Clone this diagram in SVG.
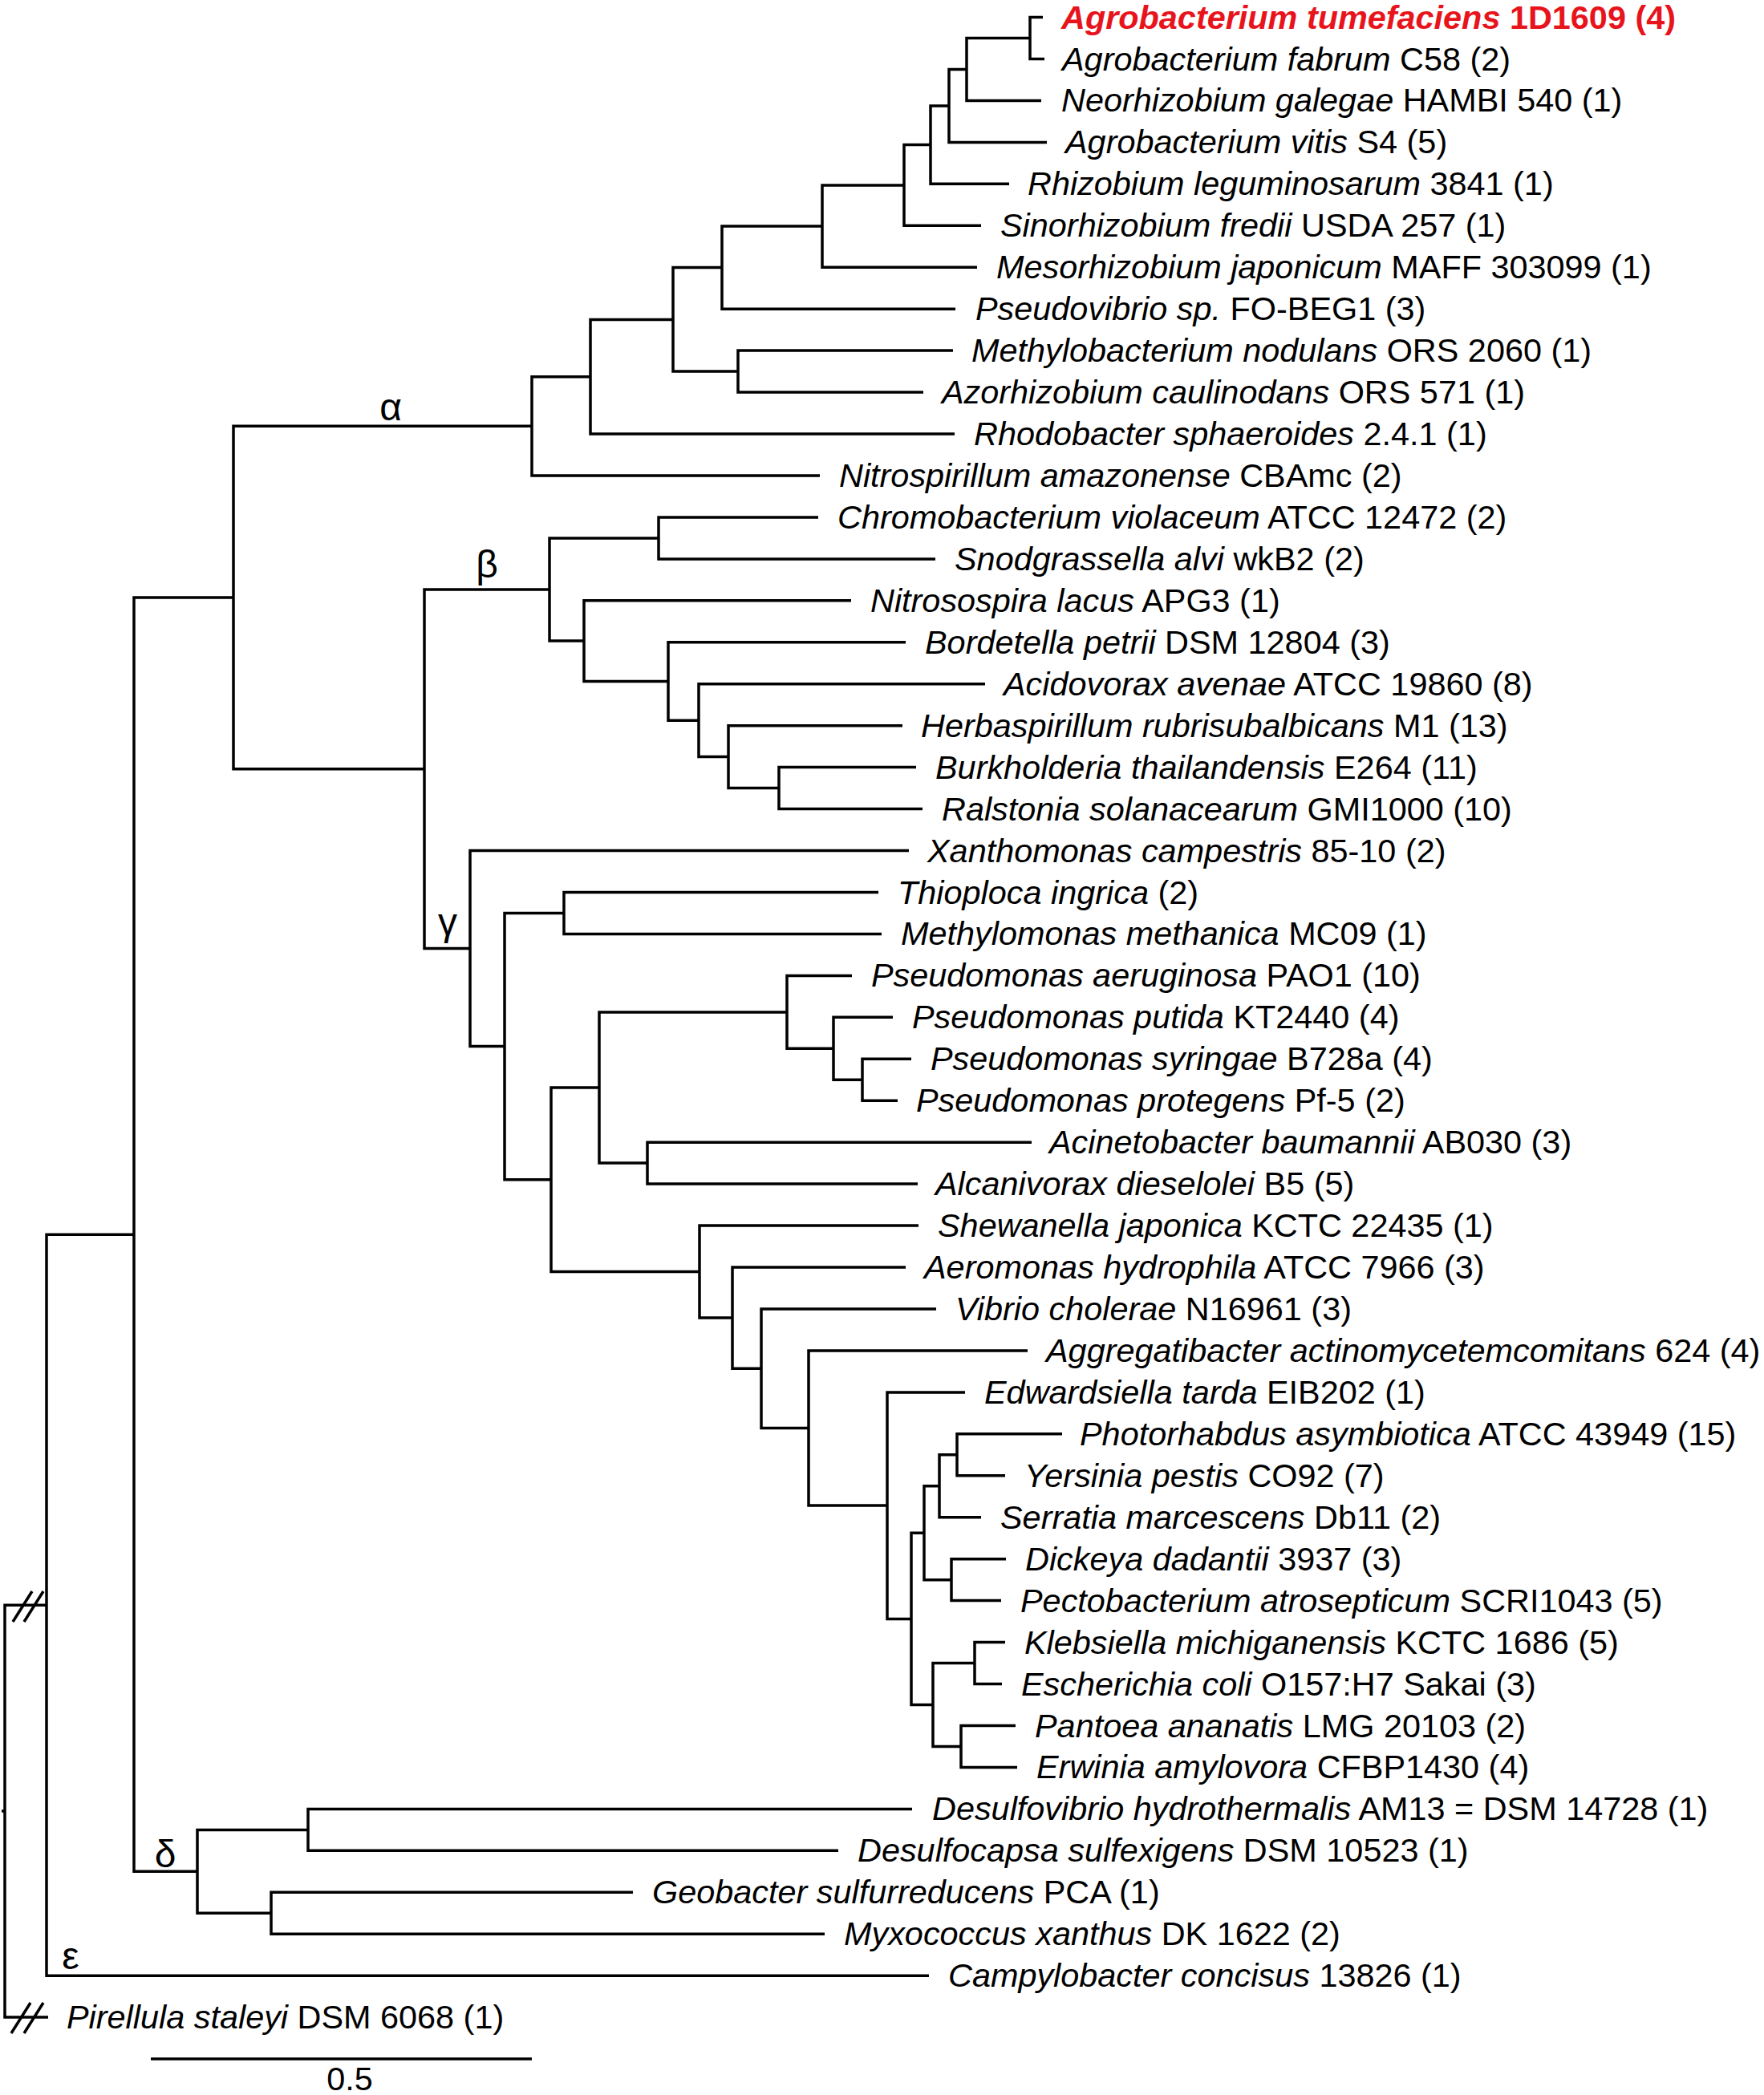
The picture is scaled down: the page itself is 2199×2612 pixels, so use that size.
<svg xmlns="http://www.w3.org/2000/svg" width="2199" height="2612" viewBox="0 0 2199 2612">
<style>
text{font-family:"Liberation Sans",Arial,sans-serif;font-size:41.4px;fill:#000}
.i{font-style:italic}
.red{fill:#e8141c;font-weight:bold}
.gk{font-size:48px;text-anchor:middle}
.br{fill:none;stroke:#000;stroke-width:3.5;stroke-linejoin:miter;stroke-linecap:butt}
</style>
<rect width="2199" height="2612" fill="#fff"/>
<g id="connectors" class="br">
<path d="M1300 21.5H1284V73.5H1302"/>
<path d="M1284 47.5H1205V125.4H1298"/>
<path d="M1205 86.5H1183V177.4H1305"/>
<path d="M1183 132H1160V229.3H1258"/>
<path d="M1160 180.6H1127V281.3H1223"/>
<path d="M1127 231H1025V333.2H1218"/>
<path d="M1025 282.1H900V385.2H1191"/>
<path d="M1188 437.1H920V489.1H1151"/>
<path d="M900 333.6H839V463.1H920"/>
<path d="M839 398.4H736V541H1190"/>
<path d="M736 469.7H663V593H1022"/>
<path d="M1020 644.9H821V696.9H1166"/>
<path d="M1142 956.6H971V1008.6H1150"/>
<path d="M1125 904.7H908V982.6H971"/>
<path d="M1228 852.7H871V943.6H908"/>
<path d="M1129 800.8H833V898.2H871"/>
<path d="M1061 748.8H728V849.5H833"/>
<path d="M821 670.9H685V799.1H728"/>
<path d="M1095 1112.5H703V1164.4H1099"/>
<path d="M1136 1320.3H1075V1372.2H1119"/>
<path d="M1113 1268.3H1039V1346.2H1075"/>
<path d="M1062 1216.4H981V1307.3H1039"/>
<path d="M1286 1424.2H807V1476.1H1144"/>
<path d="M981 1261.9H747V1450.1H807"/>
<path d="M1253 2047.6H1215V2099.5H1249"/>
<path d="M1266 2151.5H1198V2203.4H1268"/>
<path d="M1215 2073.5H1163V2177.5H1198"/>
<path d="M1324 1787.8H1193V1839.8H1253"/>
<path d="M1193 1813.8H1171V1891.7H1223"/>
<path d="M1254 1943.7H1186V1995.6H1248"/>
<path d="M1171 1852.8H1152V1969.7H1186"/>
<path d="M1152 1911.2H1136V2125.5H1163"/>
<path d="M1203 1735.9H1106V2018.4H1136"/>
<path d="M1281 1683.9H1008V1877.1H1106"/>
<path d="M1167 1632H949V1780.5H1008"/>
<path d="M1129 1580H913V1706.3H949"/>
<path d="M1145 1528.1H872V1643.1H913"/>
<path d="M747 1356H687V1585.6H872"/>
<path d="M703 1138.4H629V1470.8H687"/>
<path d="M1133 1060.5H586V1304.6H629"/>
<path d="M685 735H529V1182.6H586"/>
<path d="M663 531.3H291V958.8H529"/>
<path d="M1137 2255.4H384V2307.3H1045"/>
<path d="M789 2359.3H338V2411.2H1028"/>
<path d="M384 2281.4H246V2385.3H338"/>
<path d="M291 745H167V2333.3H246"/>
<path d="M167 1539.2H58V2463.2H1158"/>
<path d="M58 2001.2H6V2515.1H60"/>
<path d="M2 2258H6"/>
<path d="M16 2022L40 1984M30 2022L54 1984"/>
<path d="M14 2535L38 2497M30 2535L54 2497"/>
</g>
<g id="clade-labels">
<text class="gk" x="487" y="524">α</text>
<text class="gk" x="607" y="720">β</text>
<text class="gk" x="558" y="1166">γ</text>
<text class="gk" x="206" y="2328">δ</text>
<text class="gk" x="88" y="2455">ε</text>
</g>
<g id="leaves">
<g id="leaf0"><text class="red" x="1323" y="35.5"><tspan class="i">Agrobacterium tumefaciens</tspan> 1D1609 (4)</text></g>
<g id="leaf1"><text x="1324" y="87.5"><tspan class="i">Agrobacterium fabrum</tspan> C58 (2)</text></g>
<g id="leaf2"><text x="1323" y="139.4"><tspan class="i">Neorhizobium galegae</tspan> HAMBI 540 (1)</text></g>
<g id="leaf3"><text x="1328" y="191.4"><tspan class="i">Agrobacterium vitis</tspan> S4 (5)</text></g>
<g id="leaf4"><text x="1281" y="243.3"><tspan class="i">Rhizobium leguminosarum</tspan> 3841 (1)</text></g>
<g id="leaf5"><text x="1247" y="295.3"><tspan class="i">Sinorhizobium fredii</tspan> USDA 257 (1)</text></g>
<g id="leaf6"><text x="1242" y="347.2"><tspan class="i">Mesorhizobium japonicum</tspan> MAFF 303099 (1)</text></g>
<g id="leaf7"><text x="1216" y="399.2"><tspan class="i">Pseudovibrio sp.</tspan> FO-BEG1 (3)</text></g>
<g id="leaf8"><text x="1211" y="451.1"><tspan class="i">Methylobacterium nodulans</tspan> ORS 2060 (1)</text></g>
<g id="leaf9"><text x="1174" y="503.1"><tspan class="i">Azorhizobium caulinodans</tspan> ORS 571 (1)</text></g>
<g id="leaf10"><text x="1214" y="555"><tspan class="i">Rhodobacter sphaeroides</tspan> 2.4.1 (1)</text></g>
<g id="leaf11"><text x="1046" y="607"><tspan class="i">Nitrospirillum amazonense</tspan> CBAmc (2)</text></g>
<g id="leaf12"><text x="1044" y="658.9"><tspan class="i">Chromobacterium violaceum</tspan> ATCC 12472 (2)</text></g>
<g id="leaf13"><text x="1190" y="710.9"><tspan class="i">Snodgrassella alvi</tspan> wkB2 (2)</text></g>
<g id="leaf14"><text x="1085" y="762.8"><tspan class="i">Nitrosospira lacus</tspan> APG3 (1)</text></g>
<g id="leaf15"><text x="1153" y="814.8"><tspan class="i">Bordetella petrii</tspan> DSM 12804 (3)</text></g>
<g id="leaf16"><text x="1251" y="866.7"><tspan class="i">Acidovorax avenae</tspan> ATCC 19860 (8)</text></g>
<g id="leaf17"><text x="1148" y="918.7"><tspan class="i">Herbaspirillum rubrisubalbicans</tspan> M1 (13)</text></g>
<g id="leaf18"><text x="1166" y="970.6"><tspan class="i">Burkholderia thailandensis</tspan> E264 (11)</text></g>
<g id="leaf19"><text x="1174" y="1022.6"><tspan class="i">Ralstonia solanacearum</tspan> GMI1000 (10)</text></g>
<g id="leaf20"><text x="1156" y="1074.5"><tspan class="i">Xanthomonas campestris</tspan> 85-10 (2)</text></g>
<g id="leaf21"><text x="1119" y="1126.5"><tspan class="i">Thioploca ingrica</tspan> (2)</text></g>
<g id="leaf22"><text x="1123" y="1178.4"><tspan class="i">Methylomonas methanica</tspan> MC09 (1)</text></g>
<g id="leaf23"><text x="1086" y="1230.4"><tspan class="i">Pseudomonas aeruginosa</tspan> PAO1 (10)</text></g>
<g id="leaf24"><text x="1137" y="1282.3"><tspan class="i">Pseudomonas putida</tspan> KT2440 (4)</text></g>
<g id="leaf25"><text x="1160" y="1334.3"><tspan class="i">Pseudomonas syringae</tspan> B728a (4)</text></g>
<g id="leaf26"><text x="1142" y="1386.2"><tspan class="i">Pseudomonas protegens</tspan> Pf-5 (2)</text></g>
<g id="leaf27"><text x="1308" y="1438.2"><tspan class="i">Acinetobacter baumannii</tspan> AB030 (3)</text></g>
<g id="leaf28"><text x="1166" y="1490.1"><tspan class="i">Alcanivorax dieselolei</tspan> B5 (5)</text></g>
<g id="leaf29"><text x="1169" y="1542.1"><tspan class="i">Shewanella japonica</tspan> KCTC 22435 (1)</text></g>
<g id="leaf30"><text x="1152" y="1594"><tspan class="i">Aeromonas hydrophila</tspan> ATCC 7966 (3)</text></g>
<g id="leaf31"><text x="1191" y="1646"><tspan class="i">Vibrio cholerae</tspan> N16961 (3)</text></g>
<g id="leaf32"><text x="1304" y="1697.9"><tspan class="i">Aggregatibacter actinomycetemcomitans</tspan> 624 (4)</text></g>
<g id="leaf33"><text x="1227" y="1749.9"><tspan class="i">Edwardsiella tarda</tspan> EIB202 (1)</text></g>
<g id="leaf34"><text x="1346" y="1801.8"><tspan class="i">Photorhabdus asymbiotica</tspan> ATCC 43949 (15)</text></g>
<g id="leaf35"><text x="1277" y="1853.8"><tspan class="i">Yersinia pestis</tspan> CO92 (7)</text></g>
<g id="leaf36"><text x="1247" y="1905.7"><tspan class="i">Serratia marcescens</tspan> Db11 (2)</text></g>
<g id="leaf37"><text x="1278" y="1957.7"><tspan class="i">Dickeya dadantii</tspan> 3937 (3)</text></g>
<g id="leaf38"><text x="1272" y="2009.6"><tspan class="i">Pectobacterium atrosepticum</tspan> SCRI1043 (5)</text></g>
<g id="leaf39"><text x="1277" y="2061.6"><tspan class="i">Klebsiella michiganensis</tspan> KCTC 1686 (5)</text></g>
<g id="leaf40"><text x="1273" y="2113.5"><tspan class="i">Escherichia coli</tspan> O157:H7 Sakai (3)</text></g>
<g id="leaf41"><text x="1290" y="2165.5"><tspan class="i">Pantoea ananatis</tspan> LMG 20103 (2)</text></g>
<g id="leaf42"><text x="1292" y="2217.4"><tspan class="i">Erwinia amylovora</tspan> CFBP1430 (4)</text></g>
<g id="leaf43"><text x="1162" y="2269.4"><tspan class="i">Desulfovibrio hydrothermalis</tspan> AM13 = DSM 14728 (1)</text></g>
<g id="leaf44"><text x="1069" y="2321.3"><tspan class="i">Desulfocapsa sulfexigens</tspan> DSM 10523 (1)</text></g>
<g id="leaf45"><text x="813" y="2373.3"><tspan class="i">Geobacter sulfurreducens</tspan> PCA (1)</text></g>
<g id="leaf46"><text x="1052" y="2425.2"><tspan class="i">Myxococcus xanthus</tspan> DK 1622 (2)</text></g>
<g id="leaf47"><text x="1182" y="2477.2"><tspan class="i">Campylobacter concisus</tspan> 13826 (1)</text></g>
<g id="leaf48"><text x="83" y="2529.1"><tspan class="i">Pirellula staleyi</tspan> DSM 6068 (1)</text></g>
</g>
<g id="scale-bar">
<path class="br" d="M188 2567H663"/>
<text x="436" y="2606" text-anchor="middle">0.5</text>
</g>
</svg>
